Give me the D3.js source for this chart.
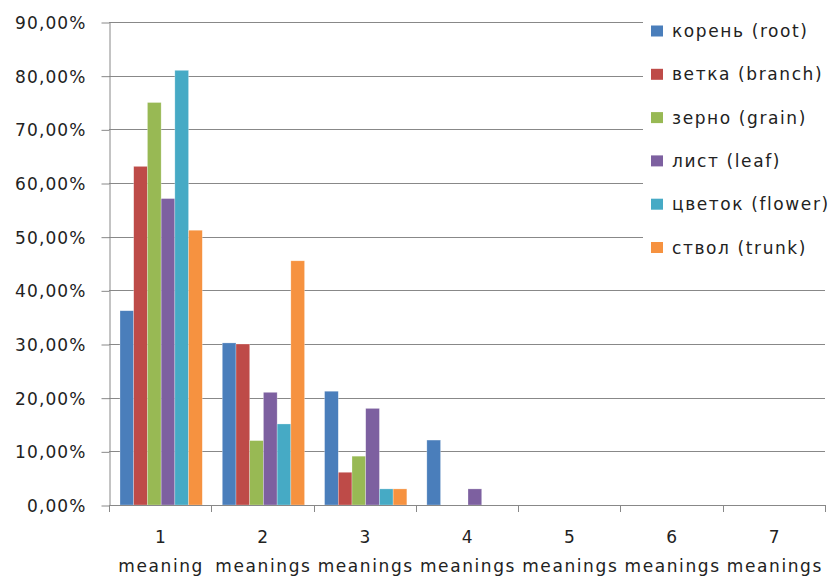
<!DOCTYPE html>
<html>
<head>
<meta charset="utf-8">
<script src="https://cdn.jsdelivr.net/npm/d3@7"></script>
<style>
  body { margin: 0; background: #fff; }
  text { font-family: "DejaVu Sans", sans-serif; font-size: 17px; fill: #222; letter-spacing: 1.6px; }
</style>
</head>
<body>
<svg id="chart" width="837" height="577"></svg>
<script>
// categories (number of meanings)
const categories = ["1", "2", "3", "4", "5", "6", "7"]
const categoryWords = ["meaning", "meanings", "meanings", "meanings", "meanings", "meanings", "meanings"]

// series, percent values
const seriesNames = ["корень (root)", "ветка (branch)", "зерно (grain)", "лист (leaf)", "цветок (flower)", "ствол (trunk)"]
const root   = [36.2, 30.2, 21.2, 12.1, 0, 0, 0]
const branch = [63.1, 30.0, 6.1, 0, 0, 0, 0]
const grain  = [75.0, 12.0, 9.1, 0, 0, 0, 0]
const leaf   = [57.1, 21.0, 18.0, 3.0, 0, 0, 0]
const flower = [81.0, 15.1, 3.0, 0, 0, 0, 0]
const trunk  = [51.2, 45.5, 3.0, 0, 0, 0, 0]
const yTicks = [0, 10, 20, 30, 40, 50, 60, 70, 80, 90]

const seriesValues = [root, branch, grain, leaf, flower, trunk]
const colors = ["#4A7EBB", "#BE4B48", "#98B954", "#7D60A0", "#46AAC5", "#F69240"]

const svg = d3.select('#chart')
const plotLeft = 109, plotRight = 825, plotTop = 22, plotBottom = 505

let x0 = d3.scaleBand().domain(categories).range([plotLeft, plotRight]).padding(0)
let x1 = d3.scaleBand().domain(seriesNames)
    .range([11, x0.bandwidth() - 9]).padding(0)
let y = d3.scaleLinear().domain([0, 90]).range([plotBottom, plotTop])

// gridlines
svg.append('g')
    .selectAll('line')
    .data(yTicks)
    .join('line')
    .attr('x1', plotLeft).attr('x2', plotRight)
    .attr('y1', d => Math.round(y(d)) + 0.5).attr('y2', d => Math.round(y(d)) + 0.5)
    .attr('stroke', '#888').attr('stroke-width', 1)

// legend background hides the gridlines behind it
svg.append('rect')
    .attr('x', 643).attr('y', 0).attr('width', 194).attr('height', 264)
    .attr('fill', '#fff')

// bars
let rows = []
categories.forEach((c, i) => {
    seriesNames.forEach((s, j) => {
        rows.push({cat: c, name: s, value: seriesValues[j][i], color: colors[j]})
    })
})
svg.append('g')
    .selectAll('rect')
    .data(rows.filter(d => d.value > 0))
    .join('rect')
    .attr('x', d => x0(d.cat) + x1(d.name))
    .attr('width', x1.bandwidth())
    .attr('y', d => y(d.value))
    .attr('height', d => y(0) - y(d.value))
    .attr('fill', d => d.color)
    .attr('stroke', '#ffffff').attr('stroke-opacity', 0.45).attr('stroke-width', 0.6)

// y axis
let yAxis = d3.axisLeft(y).tickValues(yTicks).tickSizeOuter(0).tickSizeInner(8)
    .tickFormat(d => d3.format('.2f')(d).replace('.', ',') + '%')
let gy = svg.append('g').attr('transform', 'translate(' + (plotLeft + 0.5) + ',0.5)').call(yAxis)
gy.select('.domain').attr('stroke', '#888')
gy.selectAll('.tick line').attr('stroke', '#888')
gy.selectAll('.tick text').attr('x', -23).attr('dy', '0.36em')
    .style('font-size', '17px').style('fill', '#222').style('letter-spacing', '1.1px')
    .style('font-family', '"DejaVu Sans", sans-serif')

// x axis line and ticks between categories
svg.append('line')
    .attr('x1', plotLeft).attr('x2', plotRight)
    .attr('y1', plotBottom + 0.5).attr('y2', plotBottom + 0.5)
    .attr('stroke', '#888')
let boundaries = categories.map(c => x0(c)).concat([plotRight])
svg.append('g')
    .selectAll('line')
    .data(boundaries)
    .join('line')
    .attr('x1', d => Math.round(d) + 0.5).attr('x2', d => Math.round(d) + 0.5)
    .attr('y1', plotBottom).attr('y2', plotBottom + 7)
    .attr('stroke', '#888')

// category labels, two lines
let xl = svg.append('g')
    .selectAll('text')
    .data(categories)
    .join('text')
    .attr('text-anchor', 'middle')
xl.append('tspan').attr('x', d => x0(d) + x0.bandwidth() / 2 + 1).attr('y', 543).text(d => d)
xl.append('tspan').attr('x', d => x0(d) + x0.bandwidth() / 2 + 1).attr('y', 572)
    .text((d, i) => categoryWords[i])

// legend
let legend = svg.append('g')
    .selectAll('g')
    .data(seriesNames)
    .join('g')
    .attr('transform', (d, i) => 'translate(651,' + (31 + i * 43.3) + ')')
legend.append('rect')
    .attr('x', 0).attr('y', -5.5).attr('width', 12).attr('height', 11)
    .attr('fill', (d, i) => colors[i])
legend.append('text')
    .attr('x', 21).attr('y', 0).attr('dy', '0.36em')
    .text(d => d)
</script>
</body>
</html>
